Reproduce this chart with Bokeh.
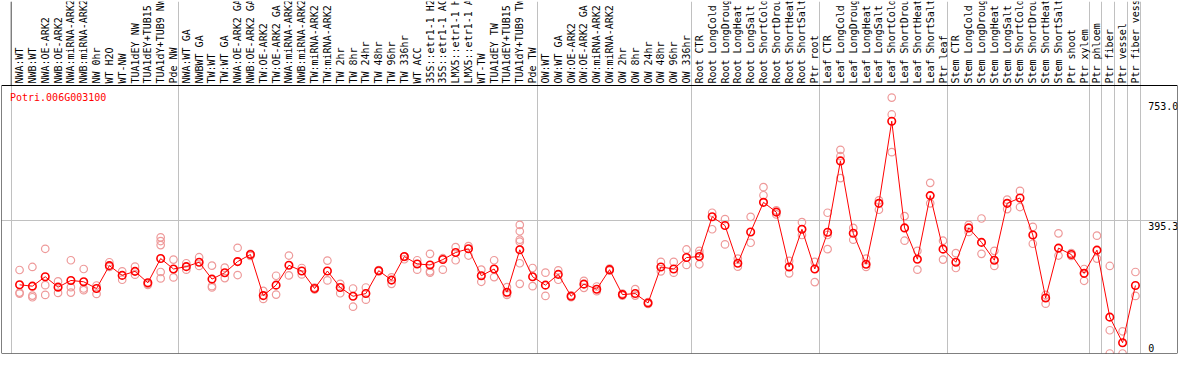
import math
from bokeh.plotting import figure
from bokeh.models import Range1d, FixedTicker, BoxAnnotation
from bokeh.core.properties import value
from bokeh.embed import file_html
from bokeh.resources import INLINE

gene = "Potri.006G003100"

labels = [
    # block 1
    "NWA:WT", "NWB:WT", "NWA:OE-ARK2", "NWB:OE-ARK2", "NWA:miRNA-ARK2", "NWB:miRNA-ARK2",
    "NW 0hr", "WT H2O", "WT-NW", "TUA1dEY NW", "TUA1dEY+TUB15", "TUA1dY+TUB9 NW", "Pde NW",
    # block 2
    "NWA:WT GA", "NWBWT GA", "TW:WT", "TW:WT GA", "NWA:OE-ARK2 GA", "NWB:OE-ARK2 GA",
    "TW:OE-ARK2", "TW:OE-ARK2 GA", "NWA:miRNA-ARK2", "NWB:miRNA-ARK2", "TW:miRNA-ARK2",
    "TW:miRNA-ARK2", "TW 2hr", "TW 8hr", "TW 24hr", "TW 48hr", "TW 96hr", "TW 336hr",
    "WT ACC", "35S::etr1-1 H2", "35S::etr1-1 AC", "LMX5::etr1-1 H", "LMX5::etr1-1 A",
    "WT-TW", "TUA1dEY TW", "TUA1dEY+TUB15", "TUA1dY+TUB9 TW", "Pde TW",
    # block 3
    "OW:WT", "OW:WT GA", "OW:OE-ARK2", "OW:OE-ARK2 GA", "OW:miRNA-ARK2", "OW:miRNA-ARK2",
    "OW 2hr", "OW 8hr", "OW 24hr", "OW 48hr", "OW 96hr", "OW 336hr",
    # block 4
    "Root CTR", "Root LongCold", "Root LongDroug", "Root LongHeat", "Root LongSalt",
    "Root ShortCold", "Root ShortDrou", "Root ShortHeat", "Root ShortSalt", "Ptr root",
    # block 5
    "Leaf CTR", "Leaf LongCold", "Leaf LongDroug", "Leaf LongHeat", "Leaf LongSalt",
    "Leaf ShortCold", "Leaf ShortDrou", "Leaf ShortHeat", "Leaf ShortSalt", "Ptr leaf",
    # block 6
    "Stem CTR", "Stem LongCold", "Stem LongDroug", "Stem LongHeat", "Stem LongSalt",
    "Stem ShortCold", "Stem ShortDrou", "Stem ShortHeat", "Stem ShortSalt", "Ptr shoot",
    "Ptr xylem",
    # singles
    "Ptr phloem", "Ptr fiber", "Ptr vessel", "Ptr fiber vess",
]

# index of the last column of each block (separator drawn after it)
block_ends = [12, 40, 52, 62, 72, 83, 84, 85, 86, 87]

means = [
    204, 200, 228, 197, 217, 213, 193, 261, 232, 244, 210, 282, 251,
    258, 271, 221, 240, 273, 294, 172, 203, 262, 245, 193, 245, 196, 170, 178, 246, 218,
    288, 266, 263, 279, 300, 311, 231, 251, 182, 308, 228,
    203, 235, 170, 206, 191, 249, 175, 178, 150, 257, 251, 285,
    288, 406, 380, 268, 361, 449, 420, 257, 369, 251,
    360, 572, 357, 265, 446, 690, 373, 280, 469, 310,
    271, 373, 330, 277, 446, 462, 352, 165, 313, 294, 238,
    307, 108, 32, 202,
]

replicates = [
    [248, 181, 178], [257, 172, 167], [311, 203, 174], [214, 180], [277, 197, 181],
    [251, 193, 188], [202, 177], [271, 257], [244, 219], [258, 234], [207, 204],
    [345, 334, 322, 242, 223], [279, 226],
    [268, 249], [286, 260], [261, 200, 196], [255, 224], [314, 233], [296, 290],
    [186, 162], [231, 175], [291, 232], [254, 235], [196, 190], [276, 217], [207, 179],
    [193, 139], [196, 160], [248, 244], [226, 207], [287, 280], [277, 249],
    [296, 244, 240], [249, 283], [316, 277], [319, 291], [249, 213], [277, 227],
    [197, 179, 174], [382, 363, 338, 332, 268, 207], [254, 200],
    [240, 171], [247, 219], [173, 167], [216, 195], [199, 185], [252, 246], [178, 172],
    [191, 172], [153, 147], [272, 244], [272, 240], [309, 263],
    [305, 296, 265], [418, 369], [399, 324], [282, 258], [406, 329], [494, 470],
    [425, 413], [275, 238], [390, 352], [272, 212],
    [418, 352, 310], [605, 586, 521], [373, 338], [282, 257], [455, 427],
    [760, 710, 598], [408, 335], [305, 249], [507, 446], [335, 279],
    [298, 254], [382, 361], [401, 296], [305, 260], [457, 429], [483, 435],
    [376, 326], [174, 148], [357, 291], [298, 290], [251, 216],
    [350, 282], [260, 69, 0], [66, 0], [242, 171],
]

y_ticks = [0, 395.3, 753.0]
y_tick_labels = ["0", "395.3", "753.0"]

# ---------------------------------------------------------------------------
xs = list(range(len(labels)))
rep_x = [i for i, r in enumerate(replicates) for _ in r]
rep_y = [v for r in replicates for v in r]
sep = [e + 0.385 for e in block_ends] + [-0.66]

MONO = "DejaVu Sans Mono"
W, H = 1178, 354
FRAME_H = H - 2
HEADER_PX = 84
Y_TOP = 796.0                       # value at the top of the plotting box
k = (FRAME_H - HEADER_PX) / Y_TOP   # px per unit
Y_MAX = FRAME_H / k                 # value at the top of the canvas

p = figure(width=W, height=H, output_backend="svg", toolbar_location=None,
           x_range=Range1d(-1.41, 90.28), y_range=Range1d(0, Y_MAX),
           x_axis_location=None, y_axis_location=None,
           min_border_left=1, min_border_right=1, min_border_bottom=1, min_border_top=1)
p.background_fill_color = "white"
p.border_fill_color = "white"
p.outline_line_color = None

p.xgrid.ticker = FixedTicker(ticks=sep)
p.xgrid.grid_line_color = "#C0C0C0"
p.ygrid.ticker = FixedTicker(ticks=[395.3])
p.ygrid.grid_line_color = "#C0C0C0"

# box around the plotting area
p.add_layout(BoxAnnotation(top=Y_TOP, fill_alpha=0, fill_color=None,
                           line_color="black", line_width=1, line_alpha=1))
# black left edge of the header
p.add_layout(BoxAnnotation(left=sep[-1], right=sep[-1], bottom=Y_TOP, fill_alpha=0,
                           fill_color=None, line_color="black", line_width=1))

# column labels (header)
p.text(x=xs, y=[Y_TOP] * len(xs), text=labels, angle=math.pi / 2,
       text_font=value(MONO), text_font_size="10px", text_color="black",
       text_align="left", text_baseline="middle", y_offset=-2)

# replicate points
p.scatter(rep_x, rep_y, marker="circle", size=7.5, fill_color=None,
          line_color="#EE9A9A", line_width=1.2)
# mean line and points
p.line(xs, means, line_color="red", line_width=1)
p.scatter(xs, means, marker="circle", size=7.5, fill_color=None,
          line_color="red", line_width=1.6)

# value labels on the right (inside the box)
p.text(x=[88.0, 88.0], y=y_ticks[1:], text=y_tick_labels[1:],
       text_font=value(MONO), text_font_size="10px", text_color="black",
       text_baseline="top", text_align="left", y_offset=2)
p.text(x=[88.0], y=y_ticks[:1], text=y_tick_labels[:1],
       text_font=value(MONO), text_font_size="10px", text_color="black",
       text_baseline="bottom", text_align="left", y_offset=-2)

# gene id
p.text(x=[-0.75], y=[Y_TOP], text=[gene], text_font=value(MONO), text_font_size="10px",
       text_color="red", text_baseline="top", text_align="left", y_offset=6)

open("out.html", "w").write(file_html(p, INLINE))
